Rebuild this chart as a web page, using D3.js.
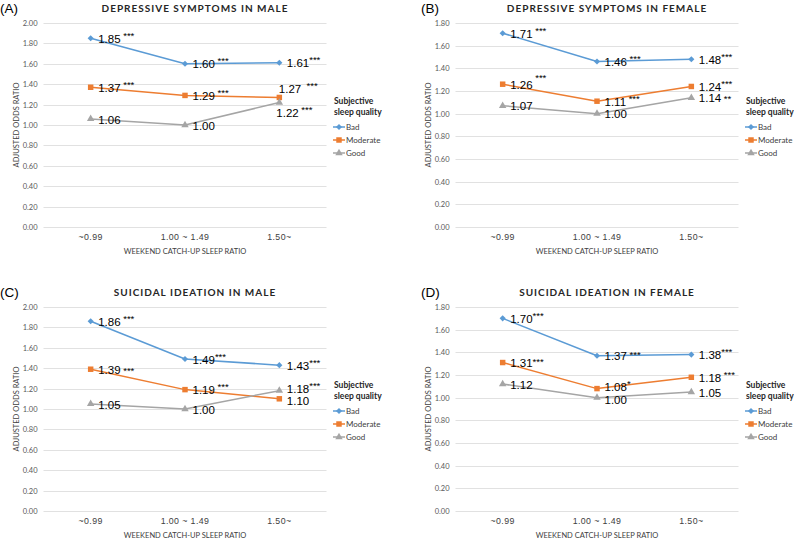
<!DOCTYPE html>
<html>
<head>
<meta charset="utf-8">
<style>
    body { margin: 0; background: #fff; }
    svg { display: block; }
</style>
</head>
<body>
<svg width="794" height="539"></svg>
<script src="https://d3js.org/d3.v7.min.js"></script>
<script>
    // chart values
    var categories = ["~0.99", "1.00 ~ 1.49", "1.50~"];
    var seriesNames = ["Bad", "Moderate", "Good"];
    var panelTags = ["(A)", "(B)", "(C)", "(D)"];
    var panelTitles = [
        "DEPRESSIVE SYMPTOMS IN MALE",
        "DEPRESSIVE SYMPTOMS IN FEMALE",
        "SUICIDAL IDEATION IN MALE",
        "SUICIDAL IDEATION IN FEMALE"
    ];
    var yMaxes = [2.0, 1.8, 2.0, 1.8];

    var depMale = [[1.85, 1.60, 1.61], [1.37, 1.29, 1.27], [1.06, 1.00, 1.22]];
    var depFemale = [[1.71, 1.46, 1.48], [1.26, 1.11, 1.24], [1.07, 1.00, 1.14]];
    var suiMale = [[1.86, 1.49, 1.43], [1.39, 1.19, 1.10], [1.05, 1.00, 1.18]];
    var suiFemale = [[1.70, 1.37, 1.38], [1.31, 1.08, 1.18], [1.12, 1.00, 1.05]];

    var depMaleSig = [[" ***", " ***", "***"], [" ***", " ***", "  ***"], ["", "", " ***"]];
    var depFemaleSig = [[" ***", " ***", "***"], [" ***", " ***", "***"], ["", "", " **"]];
    var suiMaleSig = [[" ***", "***", "***"], [" ***", " ***", ""], ["", "", "***"]];
    var suiFemaleSig = [["***", " ***", "***"], ["***", "*", " ***"], ["", "", ""]];

    var panelValues = [depMale, depFemale, suiMale, suiFemale];
    var panelSigs = [depMaleSig, depFemaleSig, suiMaleSig, suiFemaleSig];

    // layout
    var svg = d3.select("svg");
    var colors = ["#5b9bd5", "#ed7d31", "#a5a5a5"];
    var symbols = [d3.symbolDiamond2 || d3.symbolDiamond, d3.symbolSquare, d3.symbolTriangle];
    var symbolSizes = [24, 30, 24];
    var panelX = [0, 412, 0, 412];
    var panelY = [0, 0, 284, 284];
    var tagX = [0, 421, 0, 421];
    var plot = { left: 43.5, width: 283, top: 23, bottom: 227 };

    var labelFont = "'Liberation Sans Narrow', 'Arial Narrow', 'Liberation Sans', Arial, sans-serif";
    var uiFont = "Lato, 'Open Sans', sans-serif";

    // label placement exceptions: "panel-series-index"
    var labelTweaks = {
        "0-1-2": { dx: -0.5, dy: -8.5 },
        "0-2-2": { dx: -3, dy: 10.5 },
        "1-1-0": { starDy: -8 },
        "1-2-2": { starDy: 0 },
        "2-1-0": { starDy: 0 },
        "2-1-2": { dy: 2 },
        "2-2-2": { dy: -1.5 },
        "3-0-1": { starDy: -2 },
        "3-1-0": { starDy: -2 },
        "3-1-1": { dy: -1.5 },
        "3-2-1": { dy: 2 }
    };

    panelValues.forEach(function (values, p) {
        var g = svg.append("g")
            .attr("transform", "translate(" + panelX[p] + "," + panelY[p] + ")");

        var x = d3.scaleBand()
            .domain(categories)
            .range([plot.left, plot.left + plot.width]);
        var y = d3.scaleLinear()
            .domain([0, yMaxes[p]])
            .range([plot.bottom, plot.top]);
        var cx = function (i) { return x(categories[i]) + x.bandwidth() / 2; };

        var ticks = d3.range(0, yMaxes[p] + 0.001, 0.2);

        // gridlines
        g.append("g")
            .selectAll("line")
            .data(ticks)
            .enter().append("line")
            .attr("x1", plot.left)
            .attr("x2", plot.left + plot.width)
            .attr("y1", function (d) { return Math.round(y(d)) + 0.5; })
            .attr("y2", function (d) { return Math.round(y(d)) + 0.5; })
            .attr("stroke", "#d9d9d9")
            .attr("stroke-width", 0.8);

        // y axis labels
        var yAxis = g.append("g")
            .attr("transform", "translate(" + (plot.left - 6) + ",0)")
            .call(d3.axisLeft(y).tickValues(ticks).tickFormat(d3.format(".2f")).tickSize(0).tickPadding(0));
        yAxis.select(".domain").remove();
        yAxis.selectAll("text")
            .attr("fill", "#595959")
            .style("font-family", uiFont)
            .style("font-size", "7.5px");

        // x axis labels
        var xAxis = g.append("g")
            .attr("transform", "translate(0," + (plot.bottom + 7) + ")")
            .call(d3.axisBottom(x).tickSize(0).tickPadding(0));
        xAxis.select(".domain").remove();
        xAxis.selectAll("text")
            .attr("fill", "#404040")
            .style("font-family", "'Liberation Sans', Arial, sans-serif")
            .style("font-size", "8.8px")
            .style("letter-spacing", "0.4px");

        g.append("text")
            .attr("x", plot.left + plot.width / 2)
            .attr("y", plot.bottom + 27)
            .attr("text-anchor", "middle")
            .attr("fill", "#404040")
            .style("font-family", uiFont)
            .style("font-size", "7.5px")
            .text("WEEKEND CATCH-UP SLEEP RATIO");

        g.append("text")
            .attr("transform", "translate(19," + ((plot.top + plot.bottom) / 2) + ") rotate(-90)")
            .attr("text-anchor", "middle")
            .attr("fill", "#404040")
            .style("font-family", uiFont)
            .style("font-size", "7.5px")
            .text("ADJUSTED ODDS RATIO");

        // title and tag
        g.append("text")
            .attr("x", 195)
            .attr("y", 12)
            .attr("text-anchor", "middle")
            .attr("fill", "#262626")
            .style("font-family", uiFont)
            .style("font-weight", "bold")
            .style("font-size", "10px")
            .style("letter-spacing", "1px")
            .text(panelTitles[p]);

        svg.append("text")
            .attr("x", tagX[p])
            .attr("y", panelY[p] + 13)
            .attr("fill", "#000")
            .style("font-family", "'Liberation Sans', Arial, sans-serif")
            .style("font-size", "13.5px")
            .text(panelTags[p]);

        // lines and markers
        var line = d3.line()
            .x(function (d, i) { return cx(i); })
            .y(function (d) { return y(d); });

        values.forEach(function (series, s) {
            g.append("path")
                .datum(series)
                .attr("fill", "none")
                .attr("stroke", colors[s])
                .attr("stroke-width", 1.5)
                .attr("stroke-linejoin", "round")
                .attr("d", line);

            g.selectAll("path.mark-" + s)
                .data(series)
                .enter().append("path")
                .attr("class", "mark-" + s)
                .attr("transform", function (d, i) {
                    return "translate(" + cx(i) + "," + y(d) + ")";
                })
                .attr("d", d3.symbol().type(symbols[s]).size(symbolSizes[s]))
                .attr("fill", colors[s]);
        });

        // data labels
        values.forEach(function (series, s) {
            series.forEach(function (v, i) {
                var t = labelTweaks[p + "-" + s + "-" + i] || {};
                var dx = t.dx !== undefined ? t.dx : 7.5;
                var dy = t.dy !== undefined ? t.dy : 0.5;
                var starDy = t.starDy !== undefined ? t.starDy : -4;
                var txt = g.append("text")
                    .attr("x", cx(i) + dx)
                    .attr("y", y(v) + dy)
                    .attr("dy", "0.36em")
                    .attr("fill", "#000")
                    .style("font-family", labelFont)
                    .style("font-size", "11.5px")
                    .style("white-space", "pre");
                txt.append("tspan").text(v.toFixed(2));
                var sig = panelSigs[p][s][i];
                if (sig) {
                    txt.append("tspan")
                        .attr("dy", starDy)
                        .style("font-family", "'Liberation Sans', Arial, sans-serif")
                        .style("font-size", "9.5px")
                        .text(sig);
                }
            });
        });

        // legend
        var legend = g.append("g");
        legend.append("text")
            .attr("x", 334)
            .attr("y", 104)
            .attr("fill", "#262626")
            .style("font-family", uiFont)
            .style("font-weight", "bold")
            .style("font-size", "8.5px")
            .text("Subjective");
        legend.append("text")
            .attr("x", 334)
            .attr("y", 114.5)
            .attr("fill", "#262626")
            .style("font-family", uiFont)
            .style("font-weight", "bold")
            .style("font-size", "8.5px")
            .text("sleep quality");

        seriesNames.forEach(function (name, s) {
            var ly = 127 + s * 13;
            legend.append("line")
                .attr("x1", 333)
                .attr("x2", 345)
                .attr("y1", ly)
                .attr("y2", ly)
                .attr("stroke", colors[s])
                .attr("stroke-width", 1.5);
            legend.append("path")
                .attr("transform", "translate(339," + ly + ")")
                .attr("d", d3.symbol().type(symbols[s]).size(symbolSizes[s]))
                .attr("fill", colors[s]);
            legend.append("text")
                .attr("x", 346)
                .attr("y", ly)
                .attr("dy", "0.35em")
                .attr("fill", "#404040")
                .style("font-family", uiFont)
                .style("font-size", "8px")
                .text(name);
        });
    });
</script>
</body>
</html>
